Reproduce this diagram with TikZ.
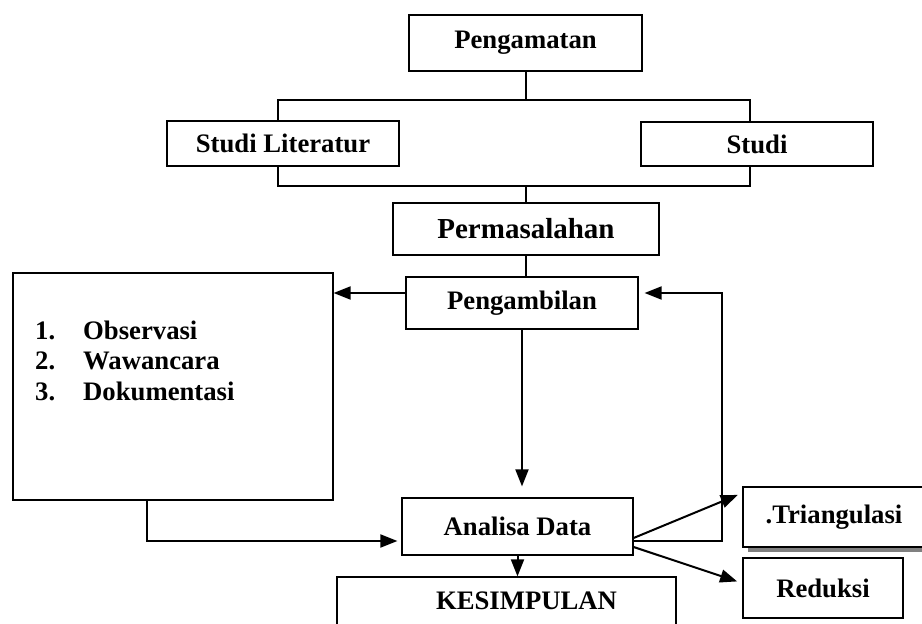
\documentclass[tikz,border=0pt]{standalone}
\usepackage{fontspec}
\setmainfont{Liberation Serif}
\usetikzlibrary{arrows.meta,shadows}
\tikzstyle{every node}=[font=\bfseries\fontsize{26.7pt}{30.5pt}\selectfont,inner sep=0pt]
\tikzstyle{kotak}=[draw,line width=1.2pt,fill=white]
\tikzstyle{garis}=[line width=2pt]
\tikzstyle{panah}=[garis,-{Triangle[length=17pt,width=13pt]}]

\begin{document}
\begin{tikzpicture}[x=1pt,y=-1pt]
\useasboundingbox (0,0) rectangle (922,624);
% kotak-kotak
\node[kotak,minimum width=233,minimum height=56] (peng) at (525.5,43) {Pengamatan};
\node[kotak,minimum width=232,minimum height=45] (lit) at (283,143.5) {Studi Literatur};
\node[kotak,minimum width=232,minimum height=44] (studi) at (757,144) {Studi};
\node[kotak,minimum width=266,minimum height=52,font=\bfseries\fontsize{29pt}{33pt}\selectfont] (masalah) at (526,229) {Permasalahan};
\node[kotak,minimum width=232,minimum height=52] (ambil) at (522,303) {Pengambilan};
\node[kotak,minimum width=320,minimum height=227] (metode) at (173,386.5) {};
\node[kotak,minimum width=231,minimum height=57] (analisa) at (517.5,526.5) {Analisa Data};
\node[kotak,minimum width=182,minimum height=60,drop shadow={opacity=1,fill=black!50,shadow xshift=5pt,shadow yshift=-5pt}] (tri) at (834,517) {.Triangulasi};
\node[kotak,line width=2.2pt,minimum width=160,minimum height=60] (reduksi) at (823,588) {Reduksi};
\node[kotak,minimum width=339,minimum height=48] (kesimpulan) at (506.5,601) {\hspace*{40pt}KESIMPULAN};
% isi metode
\foreach \n/\t in {1/Observasi,2/Wawancara,3/Dokumentasi}{
  \node[anchor=base west] (no\n) at (35,339+30.5*\n-30.5) {\n.};
  \node[anchor=base west] (item\n) at (83,339+30.5*\n-30.5) {\t};
}
% titik bantu
\coordinate (busTL) at (278,100);
\coordinate (busTR) at (750,100);
\coordinate (busBL) at (278,186);
\coordinate (busBR) at (750,186);
\coordinate (fbtop) at (722,293);
\coordinate (fbbawah) at (722,541);
\coordinate (belok) at (147,541);
% garis
\draw[garis] (peng.south) -- (peng.south |- busTL);
\draw[garis] (busTL |- lit.north) -- (busTL) -- (busTR) -- (busTR |- studi.north);
\draw[garis] (busTL |- lit.south) -- (busBL) -- (busBR) -- (busBR |- studi.south);
\draw[garis] (masalah.north) -- (masalah.north |- busBL);
\draw[garis] (masalah.south) -- (masalah.south |- ambil.north);
\draw[panah] (ambil.west |- fbtop) -- (metode.east |- fbtop);
\draw[panah,shorten >=11pt] (ambil.south) -- (ambil.south |- analisa.north);
\draw[panah,shorten >=4pt] (metode.south -| belok) -- (belok) -- (belok -| analisa.west);
\draw[panah,shorten >=6pt] (analisa.east |- fbbawah) -- (fbbawah) -- (fbtop) -- (ambil.east |- fbtop);
\draw[panah,shorten >=5pt] ([yshift=-11.5pt]analisa.east) -- ([yshift=24pt]tri.west);
\draw[panah,shorten >=5pt] ([yshift=-20.5pt]analisa.east) -- ([yshift=5pt]reduksi.west);
\draw[panah] (analisa.south) -- (analisa.south |- kesimpulan.north);
\end{tikzpicture}
\end{document}
